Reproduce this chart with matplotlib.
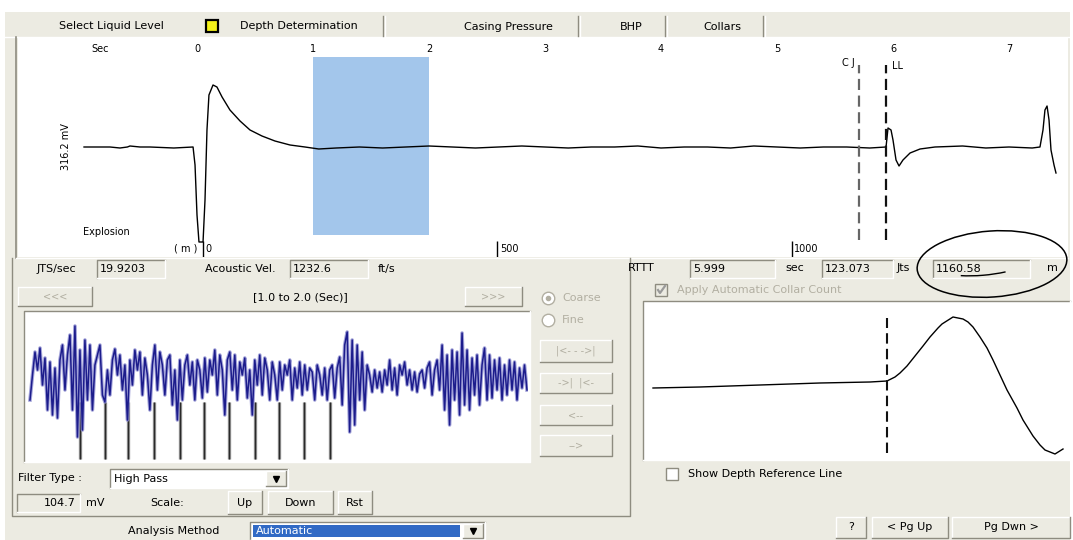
import matplotlib
matplotlib.use("Agg")
import matplotlib.pyplot as plt
from matplotlib.patches import Rectangle, Ellipse, Arc
import numpy as np

plt.rcParams['font.family'] = ['DejaVu Sans']

W, H = 1073, 540
PANEL = '#ECEBE2'
SHADOW = '#8E8C80'
DISABLED = '#B2AFA2'

# acoustic trace, seconds after the shot / relative amplitude
trace_sec = [-0.974, -0.75, -0.664, -0.60, -0.578, -0.491, -0.405, -0.20, -0.034,
             -0.017, 0.0, 0.017, 0.052, 0.069, 0.086, 0.103, 0.138, 0.172, 0.216,
             0.284, 0.371, 0.457, 0.560, 0.672, 0.802, 0.931,
             1.05, 1.2, 1.4, 1.6, 1.8, 2.0, 2.2, 2.4, 2.6, 2.8, 3.0, 3.2, 3.4,
             3.6, 3.8, 4.0, 4.2, 4.4, 4.6, 4.8, 5.0, 5.2, 5.4, 5.6, 5.8, 5.940,
             5.957, 5.983, 6.0, 6.026, 6.052, 6.086, 6.147, 6.233, 6.362,
             6.6, 6.8, 7.0, 7.2, 7.267, 7.293, 7.310, 7.328, 7.345, 7.362,
             7.388, 7.405]
trace_amp = [0, 0, -1, 0, 1, 0, 0, -1, 0,
             -18, -68, -95, -95, -53, 17, 52, 62, 60, 50,
             37, 26, 17, 11, 6, 2, 0,
             -2, -1, 0, -1, 0, 1, 0, -1, 0, 1, 0, -1, 0,
             0, 1, -1, 0, 0, -1, 1, 0, -1, 0, 0, -1, 0,
             19, 17, 7, -13, -19, -13, -6, -2, 0,
             1, -1, 0, -1, 0, 17, 37, 41, 27, -3,
             -18, -26]

sec_ticks = [0, 1, 2, 3, 4, 5, 6, 7]
depth_ticks = [0, 500, 1000]
window_sec = (1.0, 2.0)
cj_sec = 5.71
ll_depth_m = 1160.58
rttt_sec = 5.999
joints = 123.073
jts_per_sec = 19.9203
acoustic_vel = 1232.6
trace_mv = 316.2
scale_mv = 104.7
depth_zero_sec = 0.052
m_per_sec = 197.0

# filtered detail of the 1.0 - 2.0 sec window
noise_amp = [
    -20, 5, 28, 10, 32, -5, 22, -30, 18, -35,
    12, -38, 20, 35, -10, 25, 45, -30, 54, -57,
    30, -50, 40, -20, 35, -30, 15, 25, 35, -15,
    -22, 10, -15, 20, 31, 5, 25, -10, 15, -40,
    20, -5, 30, 10, 28, -15, 22, 5, -30, 15,
    35, -10, 28, 15, -15, 20, 25, -25, 10, -40,
    20, -20, 15, 25, -5, 18, -20, 20, 10, -18,
    22, -12, 20, 5, 30, -15, 25, 10, -35, 20,
    28, -10, 25, -20, 18, 5, 22, -18, 10, -35,
    20, -5, 25, -15, 22, 10, -20, 18, 5, -20,
    18, -10, 15, 5, 20, -20, 12, -8, 18, -15,
    15, -10, 12, 8, -20, 15, 5, -15, 12, -20,
    10, 15, -18, 12, 23, -25, 35, 48, -52, 40,
    -45, 35, -20, 28, -30, 15, 5, -12, 10, -8,
    8, -12, 10, -5, 20, -10, 12, -15, 15, 5,
    18, -5, 10, -10, 8, -12, 6, 10, -8, 12,
    18, -15, 10, 20, -10, 35, -30, 25, -45, 30,
    -20, 28, -35, 47, -25, 30, -30, 22, -15, 25,
    -25, 15, 32, -20, 25, -18, 20, -10, 22, -20,
    15, -15, 20, -10, 18, -20, 12, -8, 15, -10,
]
collar_sec = [1.101, 1.151, 1.197, 1.250, 1.302, 1.350, 1.400, 1.453, 1.501, 1.551, 1.604]

# liquid level echo, close-up
echo_sec = [5.9054, 5.9242, 5.9482, 5.9722, 5.9922, 5.999, 6.0022, 6.0042, 6.007,
            6.0102, 6.0134, 6.0162, 6.0194, 6.021, 6.0254, 6.0294, 6.0314, 6.0334,
            6.0362, 6.039, 6.0414, 6.047, 6.051, 6.0534, 6.0574, 6.0602, 6.0622,
            6.0662, 6.0694]
echo_amp = [0, 1, 3, 5, 6, 7, 11, 15, 22,
            32, 42, 51, 60, 64, 71, 69, 66, 61,
            51, 40, 28, -2, -20, -32, -48, -57, -62,
            -66, -61]


fig = plt.figure(figsize=(W / 100, H / 100), dpi=100)
fig.patch.set_facecolor('white')
ui = fig.add_axes([0, 0, 1, 1])
ui.set_xlim(0, W)
ui.set_ylim(H, 0)
ui.axis('off')


def px_axes(x0, y0, x1, y1):
    a = fig.add_axes([x0 / W, 1 - y1 / H, (x1 - x0) / W, (y1 - y0) / H])
    for s in a.spines.values():
        s.set_visible(False)
    a.set_xticks([])
    a.set_yticks([])
    return a


def label(x, y, s, ha='left', color='black', size=8, **kw):
    ui.text(x, y, s, ha=ha, va='center', color=color, fontsize=size, **kw)


def box(x0, y0, x1, y1, face=PANEL, sunken=False):
    ui.add_patch(Rectangle((x0, y0), x1 - x0, y1 - y0, fc=face, ec='none'))
    hi, lo = ('white', SHADOW) if not sunken else (SHADOW, 'white')
    ui.plot([x0, x0, x1], [y1, y0, y0], color=hi, lw=1)
    ui.plot([x0, x1, x1], [y1, y1, y0], color=lo, lw=1)


def button(x0, y0, x1, y1, s='', enabled=True, size=8):
    box(x0, y0, x1, y1)
    if s:
        label((x0 + x1) / 2, (y0 + y1) / 2, s, ha='center',
              color='black' if enabled else DISABLED, size=size)


def field(x0, y0, x1, y1, s, face=PANEL):
    box(x0, y0, x1, y1, face=face, sunken=True)
    label(x0 + 3, (y0 + y1) / 2, s)


def combo(x0, y0, x1, y1, s, highlight=False):
    box(x0, y0, x1, y1, face='white', sunken=True)
    if highlight:
        ui.add_patch(Rectangle((x0 + 3, y0 + 3), x1 - x0 - 28, y1 - y0 - 6,
                               fc='#316AC5', ec='none'))
        label(x0 + 6, (y0 + y1) / 2, s, color='white')
    else:
        label(x0 + 4, (y0 + y1) / 2, s)
    button(x1 - 22, y0 + 2, x1 - 2, y1 - 2)
    ui.plot([x1 - 12], [(y0 + y1) / 2], marker='v', ms=4, color='black')


def checkbox(x, y, s, checked=False, enabled=True):
    ui.add_patch(Rectangle((x, y - 6), 12, 12, fc='white' if enabled else PANEL,
                           ec=SHADOW, lw=1))
    if checked:
        ui.plot([x + 3, x + 5, x + 10], [y, y + 3, y - 4], color='#9A9A9A', lw=1.6)
    label(x + 22, y, s, color='black' if enabled else DISABLED)


# window background
ui.add_patch(Rectangle((5, 12), 1065, 528, fc=PANEL, ec='none'))
ui.plot([5, 1070], [37, 37], color='white', lw=1)

# tabs
label(111, 26, 'Select Liquid Level', ha='center')
ui.add_patch(Rectangle((206, 20), 12, 12, fc='#F4F21A', ec='black', lw=1.6))
label(299, 26, 'Depth Determination', ha='center')
label(508, 27, 'Casing Pressure', ha='center')
label(631, 27, 'BHP', ha='center')
label(722, 27, 'Collars', ha='center')
for sx in [383, 578, 665, 763]:
    ui.plot([sx, sx], [16, 36], color=SHADOW, lw=1)
    ui.plot([sx + 1.5, sx + 1.5], [16, 36], color='white', lw=1)

# full shot record
ui.plot([16, 16], [37, 258], color=SHADOW, lw=1.2)
ui.plot([16, 1068], [258, 258], color='white', lw=1)
top = px_axes(18, 38, 1068, 257)
top.set_facecolor('white')
top.set_xlim((18 - 197) / 116, (1068 - 197) / 116)
top.set_ylim(-110, 109)
top.axvspan(window_sec[0], window_sec[1], ymin=0.10, ymax=0.913, color='#A3C6EB', lw=0)
top.plot(trace_sec, trace_amp, color='black', lw=1.0)
ll_sec = depth_zero_sec + ll_depth_m / m_per_sec
top.vlines(cj_sec, -93, 82, color='#666666', lw=1.6, linestyles=(0, (5, 2.5)))
top.vlines(ll_sec, -93, 82, color='#111111', lw=1.6, linestyles=(0, (5, 2.5)))
top.text(cj_sec - 0.04, 84, 'C J', ha='right', va='center', fontsize=7)
top.text(ll_sec + 0.05, 81, 'LL', ha='left', va='center', fontsize=7)
for s in sec_ticks:
    top.text(s, 98, str(s), ha='center', va='center', fontsize=7)
top.text((100 - 197) / 116, 98, 'Sec', ha='center', va='center', fontsize=7)
top.text((66 - 197) / 116, 0, f'{trace_mv} mV', rotation=90, ha='center',
         va='center', fontsize=7)
top.text((83 - 197) / 116, -85, 'Explosion', ha='left', va='center', fontsize=7)
depth_sec = [depth_zero_sec + d / m_per_sec for d in depth_ticks]
top.vlines(depth_sec, -110, -94, color='black', lw=1)
for d, xs in zip(depth_ticks, depth_sec):
    top.text(xs + 0.02, -102, str(d), ha='left', va='center', fontsize=7)
top.text(depth_sec[0] - 0.05, -102, '( m )', ha='right', va='center', fontsize=7)

# left group: window detail
ui.plot([12, 12, 630, 630], [258, 516, 516, 258], color=SHADOW, lw=1)
label(37, 269, 'JTS/sec')
field(97, 260, 165, 278, f'{jts_per_sec}')
label(205, 269, 'Acoustic Vel.')
field(290, 260, 368, 278, f'{acoustic_vel}')
label(378, 269, 'ft/s')
button(18, 287, 92, 306, '<<<', enabled=False, size=7)
label(300, 297, f'[{window_sec[0]} to {window_sec[1]} (Sec)]', ha='center')
button(465, 287, 522, 306, '>>>', enabled=False, size=7)
ui.plot([548], [298], marker='o', ms=9, mfc='white', mec=DISABLED)
ui.plot([548], [298], marker='o', ms=3, color=DISABLED)
label(562, 298, 'Coarse', color=DISABLED)
ui.plot([548], [320], marker='o', ms=9, mfc='white', mec=DISABLED)
label(562, 320, 'Fine', color=DISABLED)
button(540, 340, 612, 362, '|<- - ->|', enabled=False, size=7)
button(540, 373, 612, 393, '->|  |<-', enabled=False, size=7)
button(540, 405, 612, 425, '<--', enabled=False, size=7)
button(540, 435, 612, 456, '-->', enabled=False, size=7)

box(24, 311, 530, 462, face='white', sunken=True)
det = px_axes(26, 313, 528, 460)
det.set_facecolor('white')
noise_sec = np.linspace(window_sec[0], window_sec[1], len(noise_amp))
det.set_xlim(window_sec[0] - 4 / 497, window_sec[1] + 1 / 497)
det.set_ylim(-80, 67)
det.vlines(collar_sec, -79, -22, color='#9A9A9A', lw=2.4)
det.vlines(collar_sec, -79, -22, color='#2A2A2A', lw=1.0)
det.plot(noise_sec, noise_amp, color='#8C8CD0', lw=2.6, alpha=0.8)
det.plot(noise_sec, noise_amp, color='#1C1C8C', lw=1.1)

label(18, 478, 'Filter Type :')
combo(110, 469, 288, 488, 'High Pass')
field(17, 494, 80, 512, '')
label(76, 503, f'{scale_mv}', ha='right')
label(86, 503, 'mV')
label(150, 503, 'Scale:')
button(228, 491, 262, 514, 'Up')
button(268, 491, 333, 514, 'Down')
button(338, 491, 372, 514, 'Rst')
label(128, 531, 'Analysis Method')
combo(250, 522, 485, 540, 'Automatic', highlight=True)

# right group: echo pick
label(628, 268, 'RTTT')
field(690, 260, 775, 278, f'{rttt_sec}')
label(785, 268, 'sec')
field(822, 260, 893, 278, f'{joints}')
label(897, 268, 'Jts')
field(933, 260, 1030, 278, f'{ll_depth_m}')
label(1047, 268, 'm')
checkbox(655, 290, 'Apply Automatic Collar Count', checked=True, enabled=False)

box(643, 301, 1070, 460, face='white', sunken=True)
echo = px_axes(645, 303, 1068, 458)
echo.set_facecolor('white')
echo.set_xlim(rttt_sec - 242 * 0.0004, rttt_sec + 181 * 0.0004)
echo.set_ylim(-70, 85)
echo.plot(echo_sec, echo_amp, color='black', lw=1.0)
echo.vlines(rttt_sec, -65, 70, color='#111111', lw=1.5, linestyles=(0, (5, 2.5)))

checkbox(666, 474, 'Show Depth Reference Line')

button(836, 517, 866, 538, '?')
button(872, 517, 948, 538, '< Pg Up')
button(952, 517, 1070, 538, 'Pg Dwn >')

# pen mark around the depth result, drawn above every panel
pen = fig.add_axes([0, 0, 1, 1])
pen.set_xlim(0, W)
pen.set_ylim(H, 0)
pen.axis('off')
pen.add_patch(Ellipse((992, 264), 150, 66, angle=-4, fill=False, ec='black', lw=1.1))
pen.add_patch(Arc((985, 258), 110, 34, angle=-6, theta1=40, theta2=150,
                  ec='black', lw=1.0))

fig.savefig('out.png', dpi=100)
